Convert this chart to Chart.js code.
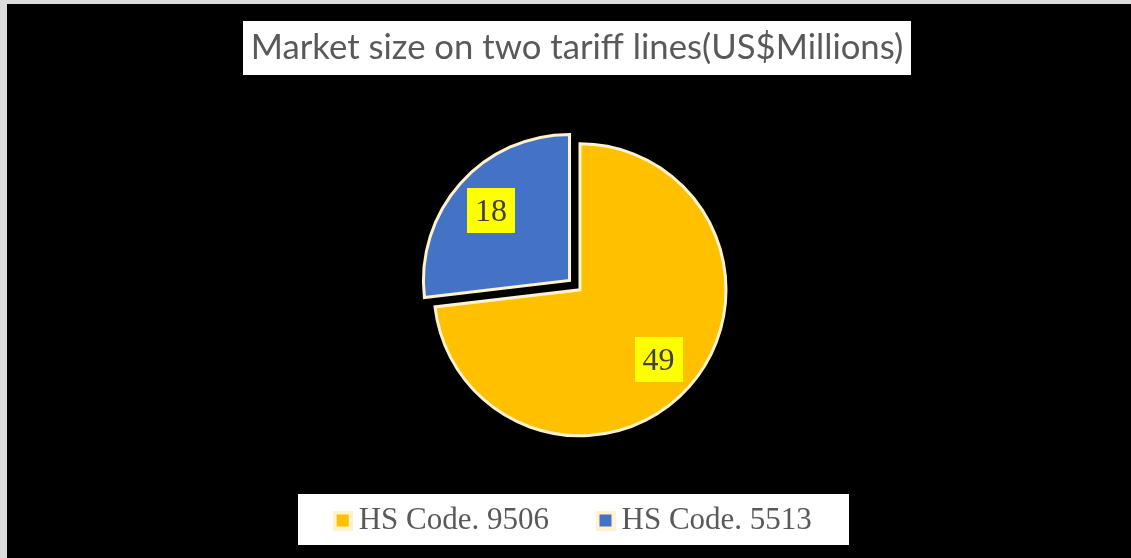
<!DOCTYPE html>
<html>
<head>
<meta charset="utf-8">
<title>Market size on two tariff lines</title>
<script src="https://cdn.jsdelivr.net/npm/chart.js@4.4.0/dist/chart.umd.min.js"></script>
<style>
  html, body { margin: 0; padding: 0; background: #dcdcdc; }
  #wrap { position: absolute; left: 7px; top: 4px; width: 1124px; height: 554px; }
</style>
</head>
<body>
<div id="wrap"><canvas id="marketPie"></canvas></div>
<script>
// market size in US$ millions per tariff line
const tariffLines = ['HS Code. 9506', 'HS Code. 5513'];
const marketSize = [49, 18];
const sliceColors = ['#FFC000', '#4472C4'];
const sliceExplode = [0, 56];   // arc offset (Chart.js moves the slice by offset / 4)
const chartTitle = 'Market size on two tariff lines(US$Millions)';

const titleFont = { family: 'Lato', size: 34.7 };
const labelFont = '32px "Liberation Serif"';

// little square legend markers with a cream rim
function swatch(color) {
    const c = document.createElement('canvas');
    c.width = 20;
    c.height = 20;
    const g = c.getContext('2d');
    g.fillStyle = '#FFF2CC';
    g.fillRect(0, 0, 20, 20);
    g.fillStyle = color;
    g.fillRect(4, 4, 12, 12);
    return c;
}
const swatches = sliceColors.map(swatch);

// black background plus the white panels behind title and legend
const panels = {
    id: 'panels',
    beforeDraw(chart) {
        const { ctx, width, height } = chart;
        ctx.save();
        ctx.fillStyle = '#000000';
        ctx.fillRect(0, 0, width, height);

        const t = chart.titleBlock;
        ctx.font = titleFont.size + 'px ' + titleFont.family;
        const tw = ctx.measureText(chartTitle).width;
        const cx = (t.left + t.right) / 2;
        const cy = t.top + t.options.padding.top + titleFont.size * 1.2 / 2;
        ctx.fillStyle = '#FFFFFF';
        ctx.fillRect(Math.round(cx - tw / 2 - 8), Math.round(cy - 27), Math.round(tw + 16), 54);

        const boxes = chart.legend.legendHitBoxes;
        if (boxes && boxes.length) {
            const first = boxes[0];
            const last = boxes[boxes.length - 1];
            const left = first.left - 44;
            const right = last.left + last.width + 37;
            ctx.fillRect(Math.round(left), Math.round(first.top - 11), Math.round(right - left), 51);
        }
        ctx.restore();
    }
};

// nudges the pie sideways and writes the value boxes on each slice
const pieLabels = {
    id: 'pieLabels',
    beforeDatasetsDraw(chart, args, opts) {
        chart.ctx.save();
        chart.ctx.translate(opts.dx, 0);
    },
    afterDatasetsDraw(chart) {
        const ctx = chart.ctx;
        const meta = chart.getDatasetMeta(0);
        const values = chart.data.datasets[0].data;
        ctx.font = labelFont;
        ctx.textAlign = 'center';
        ctx.textBaseline = 'middle';
        meta.data.forEach((arc, i) => {
            const p = arc.getProps(['x', 'y', 'startAngle', 'endAngle', 'outerRadius'], true);
            const mid = (p.startAngle + p.endAngle) / 2;
            const dist = sliceExplode[i] / 4 + p.outerRadius * 0.72;
            const x = p.x + Math.cos(mid) * dist;
            const y = p.y + Math.sin(mid) * dist;
            const text = String(values[i]);
            const w = ctx.measureText(text).width + 16;
            ctx.fillStyle = '#FFFF00';
            ctx.fillRect(Math.round(x - w / 2), Math.round(y - 22.5), Math.round(w), 45);
            ctx.fillStyle = '#404040';
            ctx.fillText(text, x, y + 2);
        });
        ctx.restore();
    }
};

new Chart(document.getElementById('marketPie'), {
    type: 'pie',
    data: {
        labels: tariffLines,
        datasets: [{
            data: marketSize,
            backgroundColor: sliceColors,
            borderColor: '#FFF2CC',
            borderWidth: 3,
            borderJoinStyle: 'miter',
            offset: sliceExplode,
            radius: 146
        }]
    },
    plugins: [panels, pieLabels],
    options: {
        responsive: true,
        maintainAspectRatio: false,
        animation: false,
        layout: { padding: { left: 16, right: 0, top: 0, bottom: 12 } },
        plugins: {
            pieLabels: { dx: 3 },
            tooltip: { enabled: false },
            title: {
                display: true,
                text: chartTitle,
                color: '#595959',
                font: { family: titleFont.family, size: titleFont.size, weight: 'normal' },
                padding: { top: 23, bottom: 62 }
            },
            legend: {
                position: 'bottom',
                labels: {
                    usePointStyle: true,
                    boxWidth: 1,
                    padding: 56,
                    color: '#595959',
                    font: { family: 'Liberation Serif', size: 31 },
                    generateLabels() {
                        return tariffLines.map((name, i) => ({
                            text: name,
                            pointStyle: swatches[i],
                            fillStyle: sliceColors[i],
                            strokeStyle: '#FFF2CC',
                            lineWidth: 0,
                            fontColor: '#595959',
                            hidden: false,
                            index: i
                        }));
                    }
                }
            }
        }
    }
});
</script>
</body>
</html>
